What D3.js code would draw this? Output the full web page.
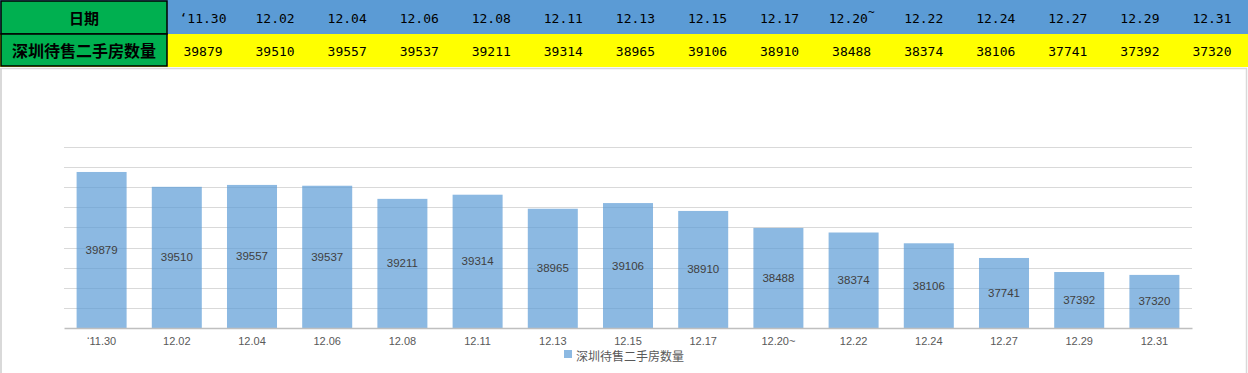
<!DOCTYPE html>
<html><head><meta charset="utf-8">
<script src="https://cdn.jsdelivr.net/npm/d3@7"></script>
<style>html,body{margin:0;padding:0;background:#fff;overflow:hidden}</style>
</head><body><svg id="c" width="1248" height="373"></svg>
<script>
const categories = ["‘11.30","12.02","12.04","12.06","12.08","12.11","12.13","12.15","12.17","12.20~","12.22","12.24","12.27","12.29","12.31"];
const values = [39879,39510,39557,39537,39211,39314,38965,39106,38910,38488,38374,38106,37741,37392,37320];
const headerLabel = "日期";
const seriesName = "深圳待售二手房数量";
const yTicks = [36000,36500,37000,37500,38000,38500,39000,39500,40000,40500];

(function(){
const svg = d3.select("#c");
const W = 1248, H = 373;

// Table
const colX = d3.scaleBand().domain(d3.range(categories.length)).range([167, 1248]);
const rowH = 34;
svg.append("rect").attr("x",0).attr("y",0).attr("width",W).attr("height",rowH).attr("fill","#5B9BD5");
svg.append("rect").attr("x",0).attr("y",rowH).attr("width",W).attr("height",33).attr("fill","#FFFF00");
svg.append("rect").attr("x",1).attr("y",1).attr("width",166).attr("height",33).attr("fill","#00B050").attr("stroke","#000").attr("stroke-width",1.5);
svg.append("rect").attr("x",1).attr("y",34).attr("width",166).attr("height",32).attr("fill","#00B050").attr("stroke","#000").attr("stroke-width",1.5);
svg.append("text").attr("x",84).attr("y",17).attr("text-anchor","middle").attr("dominant-baseline","central")
  .attr("font-family","Noto Sans CJK SC").attr("font-weight","bold").attr("font-size",15).attr("fill","#000").text(headerLabel);
svg.append("text").attr("x",84).attr("y",50).attr("text-anchor","middle").attr("dominant-baseline","central")
  .attr("font-family","Noto Sans CJK SC").attr("font-weight","bold").attr("font-size",16).attr("fill","#000").text(seriesName);
const mono = "DejaVu Sans Mono, Liberation Mono, monospace";
categories.forEach((c,i)=>{
  const t = svg.append("text").attr("x",colX(i)+colX.bandwidth()/2).attr("y",18).attr("text-anchor","middle")
    .attr("dominant-baseline","central").attr("font-family",mono).attr("font-size",13).attr("fill","#000");
  if (c.endsWith("~")) {
    t.append("tspan").text(c.slice(0,-1));
    t.append("tspan").attr("dy",-6).attr("font-size",11).text("~");
  } else t.text(c);
  svg.append("text").attr("x",colX(i)+colX.bandwidth()/2).attr("y",51).attr("text-anchor","middle")
    .attr("dominant-baseline","central").attr("font-family",mono).attr("font-size",13).attr("fill","#000").text(values[i]);
});

// Chart frame
svg.append("line").attr("x1",0).attr("x2",1247).attr("y1",68.5).attr("y2",68.5).attr("stroke","#D9D9D9").attr("stroke-width",1.5);
svg.append("line").attr("x1",1).attr("x2",1).attr("y1",68).attr("y2",H).attr("stroke","#D9D9D9").attr("stroke-width",2);
svg.append("line").attr("x1",1246.5).attr("x2",1246.5).attr("y1",68).attr("y2",H).attr("stroke","#D9D9D9").attr("stroke-width",1.5);

const pl = 64, pr = 1192, pt = 147, pb = 328;
const x = d3.scaleBand().domain(categories).range([pl,pr]).paddingInner(0.335).paddingOuter(0.1675);
const y = d3.scaleLinear().domain([36000,40500]).range([pb,pt]);

svg.append("g").selectAll("line").data(yTicks.slice(1)).join("line")
  .attr("x1",pl).attr("x2",pr).attr("y1",d=>Math.round(y(d))+0.5).attr("y2",d=>Math.round(y(d))+0.5)
  .attr("stroke","#D9D9D9").attr("stroke-width",1);

svg.append("g").selectAll("rect").data(values).join("rect")
  .attr("x",(d,i)=>x(categories[i])).attr("width",x.bandwidth())
  .attr("y",d=>y(d)).attr("height",d=>pb-y(d))
  .attr("fill","#5B9BD5").attr("fill-opacity",0.7);

svg.append("g").selectAll("text").data(values).join("text")
  .attr("x",(d,i)=>x(categories[i])+x.bandwidth()/2).attr("y",d=>(y(d)+pb)/2)
  .attr("text-anchor","middle").attr("dominant-baseline","central")
  .attr("font-family","Liberation Sans, Arial, sans-serif").attr("font-size",11.5).attr("fill","#404040").text(d=>d);

// X axis
const xa = svg.append("g").attr("transform",`translate(0,${pb})`).call(d3.axisBottom(x).tickSize(0).tickPadding(9));
xa.select(".domain").attr("stroke","#BFBFBF").attr("stroke-width",1.5);
xa.selectAll("text").attr("font-family","Liberation Sans, Arial, sans-serif").attr("font-size",11).attr("fill","#595959");

// Legend
svg.append("rect").attr("x",564).attr("y",350).attr("width",8).attr("height",8).attr("fill","#5B9BD5").attr("fill-opacity",0.7);
svg.append("text").attr("x",576).attr("y",355.5).attr("dominant-baseline","central")
  .attr("font-family","Noto Sans CJK SC").attr("font-size",12).attr("fill","#595959").text(seriesName);
})();
</script></body></html>
